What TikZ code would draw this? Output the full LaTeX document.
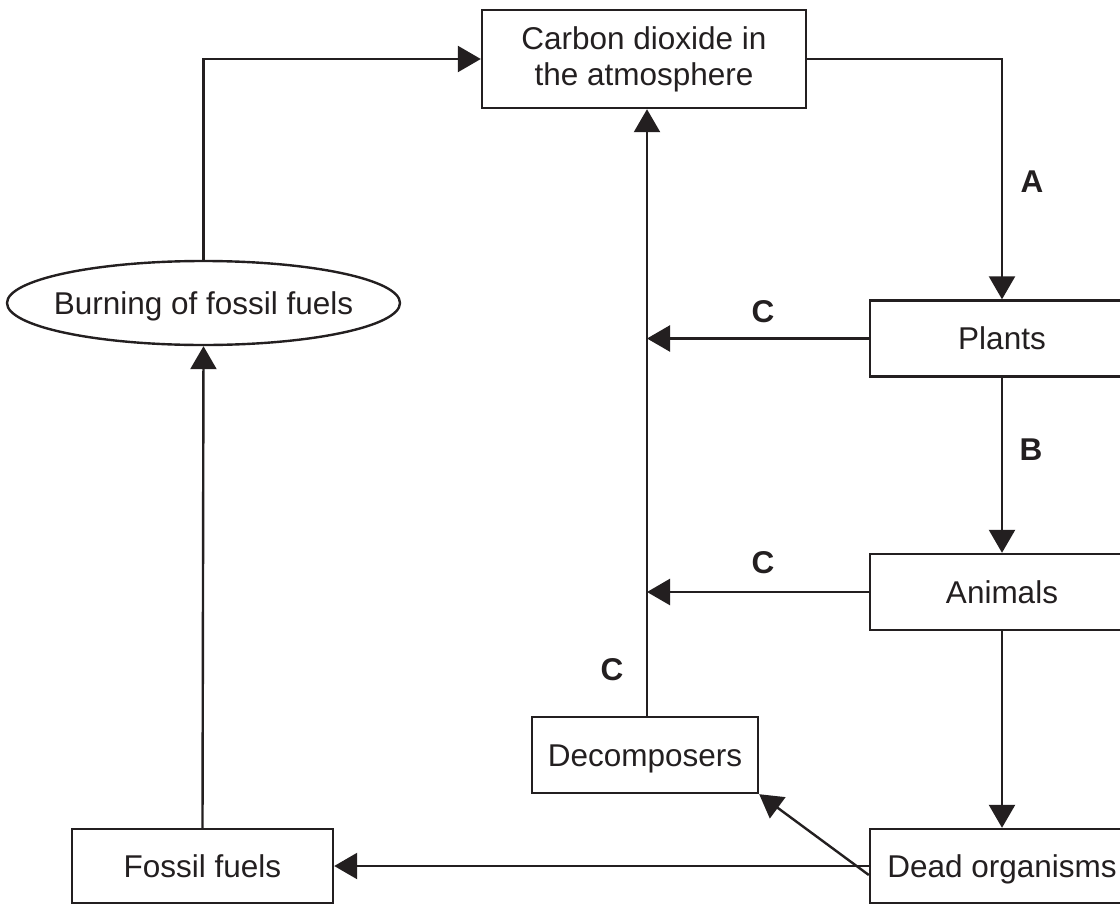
\documentclass[tikz,border=0pt]{standalone}
\usepackage{fontspec}
\setmainfont{Liberation Sans}
\usetikzlibrary{arrows.meta,shapes.geometric}
\definecolor{ink}{HTML}{231F20}
\begin{document}
\begin{tikzpicture}[x=1pt,y=-1pt,
  every node/.style={text=ink,font=\fontsize{31.5}{38}\selectfont},
  box/.style={draw=ink,line width=2.4pt,rectangle,inner sep=0pt,text height=22.5pt,text depth=0pt},
  conn/.style={draw=ink,line width=2.4pt},
  arr/.style={conn,-{Triangle[length=23pt,width=26pt]}},
  lbl/.style={font=\fontsize{31.5}{38}\selectfont\bfseries}]
\useasboundingbox (0,0) rectangle (1120,905);
\clip (0,0) rectangle (1120,905);
\fill[white] (0,0) rectangle (1120,905);
% nodes
\node[draw=ink,line width=2.4pt,rectangle,inner sep=0pt,minimum width=324pt,minimum height=98pt,align=center] (co2) at (644,59) {\raisebox{-2pt}{Carbon dioxide in}\\the atmosphere};
\node[draw=ink,line width=2.4pt,ellipse,inner sep=0pt,minimum width=393pt,minimum height=84pt] (burn) at (203.5,303) {};
\node[text height=22.5pt,text depth=0pt,inner sep=0pt] (burntxt) at (burn.center) {Burning of fossil fuels};
\node[box,minimum width=264pt,minimum height=76pt] (plants) at (1002,338.5) {Plants};
\node[box,minimum width=264pt,minimum height=76pt] (animals) at (1002,592) {Animals};
\node[box,minimum width=264pt,minimum height=74pt] (dead) at (1002,866) {Dead organisms};
\node[box,minimum width=226pt,minimum height=76pt] (dec) at (645,755) {Decomposers};
\node[box,minimum width=261pt,minimum height=74pt] (fossil) at (202.5,866) {Fossil fuels};
\coordinate (vx) at (647,0);
% labels
\node[lbl] (la) at (1032,182) {A};
\node[lbl] (lb) at (1031,450) {B};
\node[lbl] (lc1) at (763,312) {C};
\node[lbl] (lc2) at (763,563) {C};
\node[lbl] (lc3) at (612,670) {C};
% connectors
\draw[arr] (burn.north) |- (co2.west);
\draw[arr] (co2.east) -| (plants.north);
\draw[arr] (plants.south) -- (animals.north);
\draw[arr] (animals.south) -- (dead.north);
\draw[arr] (dec.north -| vx) -- (vx |- co2.south);
\draw[arr] (plants.west) -- (plants.west -| vx);
\draw[arr] (animals.west) -- (animals.west -| vx);
\draw[arr] ([yshift=-9pt]dead.west) -- (dec.south east);
\draw[arr] (dead.west) -- (fossil.east);
\draw[arr] (fossil.north) -- (burn.south);
\end{tikzpicture}
\end{document}
